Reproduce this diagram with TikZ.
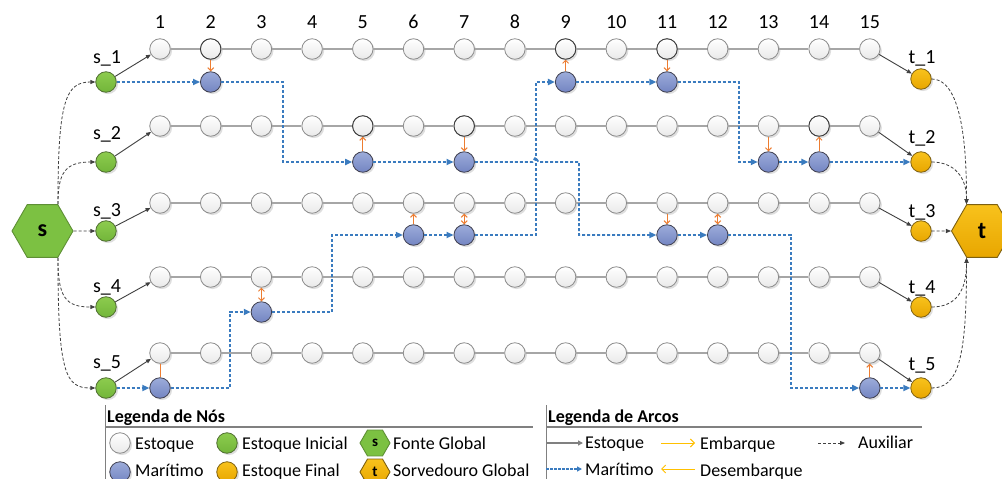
\documentclass[tikz,border=0pt]{standalone}
\usepackage{fontspec}
\setmainfont{Carlito}
\usetikzlibrary{arrows.meta,shapes.geometric,shadows}
\definecolor{stockline}{HTML}{A6A6A6}
\definecolor{stockfill}{HTML}{E9E9E9}
\definecolor{stockdraw}{HTML}{8C8C8C}
\definecolor{darkrim}{HTML}{3A3A3A}
\definecolor{greentop}{HTML}{8DCB4E}
\definecolor{greenbot}{HTML}{72B63A}
\definecolor{greendraw}{HTML}{4F6E30}
\definecolor{bluetop}{HTML}{9DACDA}
\definecolor{bluebot}{HTML}{7385C2}
\definecolor{bluedraw}{HTML}{3F3F4F}
\definecolor{orgtop}{HTML}{F8C21C}
\definecolor{orgbot}{HTML}{E8A600}
\definecolor{orgdraw}{HTML}{7E6010}
\definecolor{hexgreen}{HTML}{7CC142}
\definecolor{hexgreendraw}{HTML}{5E8F35}
\definecolor{marblue}{HTML}{3A7BBF}
\definecolor{orarrow}{HTML}{ED7D31}
\definecolor{yelarrow}{HTML}{FFC000}
\definecolor{auxgray}{HTML}{404040}
\definecolor{leggray}{HTML}{808080}
\tikzset{
  shad/.style={drop shadow={shadow xshift=1.8pt,shadow yshift=-1.8pt,fill=black,opacity=0.13}},
  stocknode/.style={circle,minimum size=20.5pt,inner sep=0pt,draw=stockdraw,line width=0.8pt,
     top color=white,bottom color=stockfill,shad},
  bluenode/.style={circle,minimum size=20.5pt,inner sep=0pt,draw=bluedraw,line width=0.8pt,
     top color=bluetop,bottom color=bluebot,shad},
  greennode/.style={circle,minimum size=20.5pt,inner sep=0pt,draw=greendraw,line width=0.8pt,
     top color=greentop,bottom color=greenbot,shad},
  orgnode/.style={circle,minimum size=20.5pt,inner sep=0pt,draw=orgdraw,line width=0.8pt,
     top color=orgtop,bottom color=orgbot,shad},
  hexnode/.style={regular polygon,regular polygon sides=6,inner sep=0pt,line width=0.9pt},
  lab/.style={font=\fontsize{20}{24}\selectfont,inner sep=0pt},
  legtext/.style={font=\fontsize{18}{22}\selectfont,inner sep=0pt,anchor=base west},
  stockln/.style={draw=stockline,line width=1.5pt},
  stockarr/.style={draw=auxgray,line width=0.9pt,-{Triangle[length=5pt,width=4pt]}},
  mar/.style={draw=marblue,line width=1.8pt,dash pattern=on 3pt off 2pt,
     -{Triangle[length=7pt,width=6pt]}},
  aux/.style={draw=auxgray,line width=0.8pt,dash pattern=on 3pt off 2pt,
     -{Triangle[length=5pt,width=4pt]}},
  ora/.style={draw=orarrow,line width=1pt},
  barb/.tip={Straight Barb[length=3pt,width=6pt]},
}
\begin{document}
\begin{tikzpicture}[x=1pt,y=-1pt]
\useasboundingbox (0,0) rectangle (1002,479);
\clip (0,0) rectangle (1002,479);
\fill[white] (0,0) rectangle (1002,479);

% stock nodes
\foreach \r/\ys in {1/49,2/126,3/203,4/277,5/353}
  \foreach \c in {1,...,15}
    \node[stocknode] (n\r-\c) at ({160+(\c-1)*50.7},\ys) {};
\foreach \k in {n1-2,n1-9,n1-11,n2-5,n2-7,n2-14}
  \draw[darkrim,line width=0.8pt] (\k.center) circle (10.25pt);

% stock lines
\foreach \r in {1,...,5}{
  \foreach \c in {1,...,14}{
    \pgfmathtruncatemacro{\nx}{\c+1}
    \draw[stockln] (n\r-\c) -- (n\r-\nx);
  }
}

% column labels
\foreach \c in {1,...,15}
  \node[lab,anchor=base] (h\c) at ({160+(\c-1)*50.7},28) {\c};

% maritime (blue) nodes
\foreach \r/\c/\ys in {1/2/82,1/9/82,1/11/82,2/5/162,2/7/162,2/13/162,2/14/162,
                       3/6/235,3/7/235,3/11/235,3/12/235,4/3/312,5/1/388,5/15/388}
  \node[bluenode] (b\r-\c) at ({160+(\c-1)*50.7},\ys) {};

% source / sink nodes
\foreach \i/\ys/\lb in {1/82/63,2/162/139,3/231/216,4/307/292,5/388/368}{
  \node[greennode] (s\i) at (106,\ys) {};
  \node[lab,anchor=base] (ls\i) at (107,\lb) {s\_\i};
}
\foreach \i/\ys/\lb in {1/79/63,2/162/143,3/231/217,4/307/293,5/388/370}{
  \node[orgnode] (t\i) at (921,\ys) {};
  \node[lab,anchor=base] (lt\i) at (922,\lb) {t\_\i};
}

% hexagons
\node[hexnode,minimum size=61pt,fill=hexgreen,draw=hexgreendraw,
      font=\bfseries\fontsize{24}{24}\selectfont] (S) at (42.5,231) {s};
\node[hexnode,minimum size=61pt,top color=orgtop,bottom color=orgbot,draw=orgdraw,
      font=\bfseries\fontsize{24}{24}\selectfont] (T) at (982,231) {t};

% source arcs
\draw[aux] (S.60) .. controls (57.75,100) and (66,82) .. (s1.west);
\draw[aux] (S.60) .. controls (57.75,172) and (66,162) .. (s2.west);
\draw[aux] (S.east) -- (s3.west);
\draw[aux] (S.-60) .. controls (57.75,298) and (66,307) .. (s4.west);
\draw[aux] (S.-60) .. controls (57.75,375) and (66,388) .. (s5.west);
% sink arcs
\draw[aux] (t1.east) .. controls (952,79) and (966.75,110) .. (T.120);
\draw[aux] (t2.east) .. controls (955,162) and (966.75,178) .. (T.120);
\draw[aux] (t3.east) -- (T.west);
\draw[aux] (t4.east) .. controls (955,307) and (966.75,292) .. (T.240);
\draw[aux] (t5.east) .. controls (958,388) and (966.75,360) .. (T.240);

% initial / final stock arcs
\foreach \i in {1,...,5}{
  \draw[stockarr] (s\i) -- (n\i-1);
  \draw[stockarr] (n\i-15) -- (t\i);
}

% maritime route A
\draw[mar] (s1) -- (b1-2);
\draw[mar] (b1-2.east) -| (283,162) -- (b2-5.west);
\draw[mar] (b2-5) -- (b2-7);
\draw[mar] (b2-7.east) -- (532.5,162) -- (535.5,157.5) -- (538.5,162) -| (579,235) -- (b3-11.west);
\draw[mar] (b3-11) -- (b3-12);
\draw[mar] (b3-12.east) -| (791,388) -- (b5-15.west);
\draw[mar] (b5-15) -- (t5);
% maritime route B
\draw[mar] (s5) -- (b5-1);
\draw[mar] (b5-1.east) -| (230,312) -- (b4-3.west);
\draw[mar] (b4-3.east) -| (332,235) -- (b3-6.west);
\draw[mar] (b3-6) -- (b3-7);
\draw[mar] (b3-7.east) -| (536,82) -- (b1-9.west);
\draw[mar] (b1-9) -- (b1-11);
\draw[mar] (b1-11.east) -| (739,162) -- (b2-13.west);
\draw[mar] (b2-13) -- (b2-14);
\draw[mar] (b2-14) -- (t2);

% embark / disembark arcs
\foreach \r/\c in {1/2,1/11,2/7,2/13,3/11}
  \draw[ora,-barb] (n\r-\c) -- (b\r-\c);
\foreach \r/\c in {1/9,2/5,2/14,3/6,5/15}
  \draw[ora,-barb] (b\r-\c) -- (n\r-\c);
\foreach \r/\c in {3/7,3/12,4/3}
  \draw[ora,barb-barb] (n\r-\c) -- (b\r-\c);
\draw[ora] (n5-1) -- (b5-1);

% ---------- node legend ----------
\draw[leggray,line width=1pt] (105,405) -- (105,479);
\node[legtext,font=\bfseries\fontsize{18}{22}\selectfont] (ln) at (107,422) {Legenda de Nós};
\draw[leggray,line width=1.2pt] (105,427) -- (533,427);
\node[stocknode] (lg1) at (120,443) {};
\node[legtext] (lg1t) at (135,449) {Estoque};
\node[greennode] (lg2) at (227,443) {};
\node[legtext] (lg2t) at (242,449) {Estoque Inicial};
\node[hexnode,minimum size=30pt,fill=hexgreen,draw=hexgreendraw,
      font=\bfseries\fontsize{15}{15}\selectfont] (lg3) at (375,443) {s};
\node[legtext] (lg3t) at (393,449) {Fonte Global};
\node[bluenode] (lg4) at (120,472) {};
\node[legtext] (lg4t) at (135,476) {Marítimo};
\node[orgnode] (lg5) at (227,472) {};
\node[legtext] (lg5t) at (242,476) {Estoque Final};
\node[hexnode,minimum size=30pt,top color=orgtop,bottom color=orgbot,draw=orgdraw,
      font=\bfseries\fontsize{15}{15}\selectfont] (lg6) at (375,472) {t};
\node[legtext] (lg6t) at (393,476) {Sorvedouro Global};

% ---------- arc legend ----------
\draw[leggray,line width=1pt] (546,405) -- (546,479);
\node[legtext,font=\bfseries\fontsize{18}{22}\selectfont] (la) at (548,422) {Legenda de Arcos};
\draw[leggray,line width=1.2pt] (546,427) -- (922,427);
\coordinate (a1s) at (546,443); \coordinate (a1e) at (583,443);
\draw[draw=leggray,line width=1.5pt,-{Triangle[length=5pt,width=5pt]}] (a1s) -- (a1e);
\node[legtext] (la1) at (585,448) {Estoque};
\coordinate (a2s) at (661,443); \coordinate (a2e) at (695,443);
\draw[draw=yelarrow,line width=1pt,-{Straight Barb[length=4pt,width=8pt]}] (a2s) -- (a2e);
\node[legtext] (la2) at (700,449) {Embarque};
\coordinate (a3s) at (818,443); \coordinate (a3e) at (845,443);
\draw[aux] (a3s) -- (a3e);
\node[legtext] (la3) at (858,448) {Auxiliar};
\coordinate (a4s) at (546,469); \coordinate (a4e) at (582,469);
\draw[draw=marblue,line width=1.2pt,dash pattern=on 2.5pt off 1.5pt,-{Triangle[length=5pt,width=5pt]}] (a4s) -- (a4e);
\node[legtext] (la4) at (585,475) {Marítimo};
\coordinate (a5s) at (695,469); \coordinate (a5e) at (661,469);
\draw[draw=yelarrow,line width=1pt,-{Straight Barb[length=4pt,width=8pt]}] (a5s) -- (a5e);
\node[legtext] (la5) at (700,476) {Desembarque};
\end{tikzpicture}
\end{document}
